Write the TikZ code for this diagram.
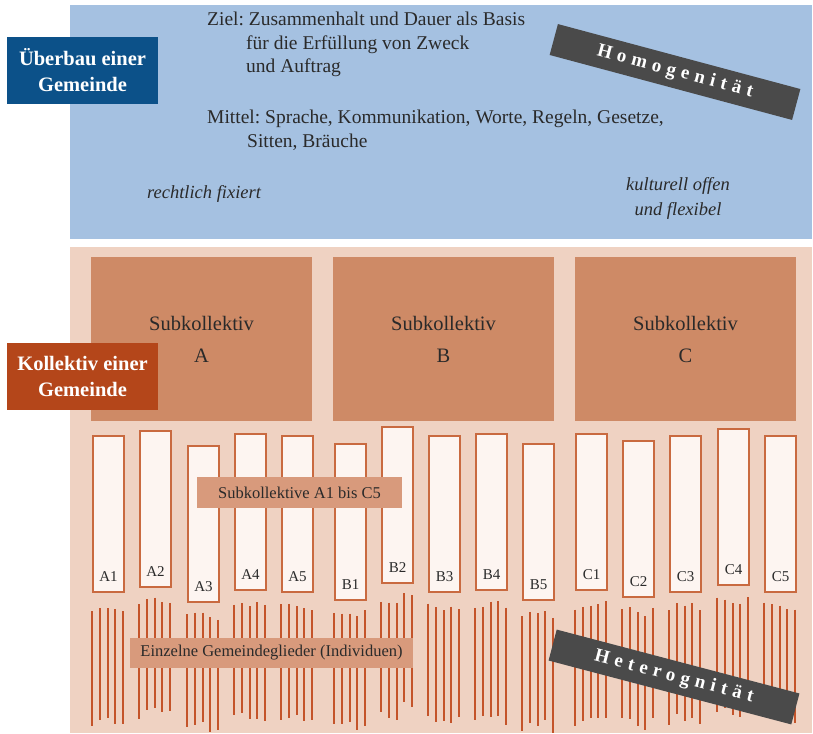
\documentclass[tikz,border=0pt]{standalone}
\usepackage{fontspec}
\setmainfont{Liberation Serif}
\newfontfamily\widefont[LetterSpace=29]{Liberation Serif}
\usetikzlibrary{calc}
\usetikzlibrary{positioning}
\frenchspacing
\definecolor{skyblue}{HTML}{A5C1E1}
\definecolor{dblue}{HTML}{0C5189}
\definecolor{salmon}{HTML}{EFD2C2}
\definecolor{clay}{HTML}{CE8A66}
\definecolor{rust}{HTML}{B4461A}
\definecolor{barfill}{HTML}{FDF5F1}
\definecolor{barline}{HTML}{C96A40}
\definecolor{member}{HTML}{C4542A}
\definecolor{notefill}{HTML}{D89A7C}
\definecolor{slate}{HTML}{4A4A4A}
\definecolor{ink}{HTML}{2A2A2A}
\tikzstyle{tag}=[inner sep=0pt,align=center,text=white,minimum width=151,minimum height=67,font=\fontsize{20.5}{26}\selectfont\bfseries]
\tikzstyle{sub}=[fill=clay,inner sep=0pt,align=center,text=ink,minimum width=221,minimum height=164,font=\fontsize{20.5}{32}\selectfont]
\tikzstyle{bar}=[draw=barline,fill=barfill,line width=2pt,anchor=north west,inner sep=0pt,minimum width=31,minimum height=156]
\tikzstyle{note}=[fill=notefill,inner sep=0pt,text=ink,font=\fontsize{16.5}{18}\selectfont]
\tikzstyle{stamp}=[fill=slate,inner sep=0pt,text=white,minimum width=251,minimum height=32,font=\fontsize{19}{22}\selectfont\widefont\bfseries]
\tikzstyle{body}=[inner sep=0pt,text=ink,align=left,anchor=base west,font=\fontsize{19.5}{23.5}\selectfont]
\tikzstyle{remark}=[inner sep=0pt,text=ink,align=center,anchor=base,font=\fontsize{18.5}{25}\selectfont\itshape]

\begin{document}
\begin{tikzpicture}[x=1pt,y=-1pt]
  \useasboundingbox (0,0) rectangle (813,733);
  % upper panel
  \fill[skyblue] (70,5) rectangle (812,239);
  \node[body] (ziel) at (207,73) {Ziel: Zusammenhalt und Dauer als Basis\\
    \hspace*{39pt}für die Erfüllung von Zweck\\
    \hspace*{39pt}und Auftrag};
  \node[body] (mittel) at (207,147) {Mittel: Sprache, Kommunikation, Worte, Regeln, Gesetze,\\
    \hspace*{40pt}Sitten, Bräuche};
  \node[remark] (fix) at (204,198) {rechtlich fixiert};
  \node[remark] (open) at (678,215) {kulturell offen\\und flexibel};
  \node[stamp,rotate=-15] (homo) at (675,72) {Homogenität};
  \node[tag,fill=dblue] (ueber) at (82.5,70.5) {Überbau einer\\Gemeinde};
  % lower panel
  \fill[salmon] (70,247) rectangle (812,733);
  \node[sub] (SA) at (201.5,339) {Subkollektiv\\A};
  \node[sub] (SB) at (443.5,339) {Subkollektiv\\B};
  \node[sub] (SC) at (685.5,339) {Subkollektiv\\C};
  \node[tag,fill=rust] (koll) at (82.5,376.5) {Kollektiv einer\\Gemeinde};
  \pgfmathsetseed{11}
  \foreach \n/\x/\t in {A1/92/435,A2/139/430,A3/187/445,A4/234/433,A5/281/435,
      B1/334/443,B2/381/426,B3/428/435,B4/475/433,B5/522/443,
      C1/575/433,C2/622/440,C3/669/435,C4/717/428,C5/764/435}{
    \node[bar] (\n) at (\x,\t) {};
    \node[text=ink,font=\fontsize{15}{18}\selectfont] at ($(\n.south)+(0,-16)$) {\n};
    \foreach \k in {0,...,4}
      \draw[member,line width=2pt] ($(\n.south west)+(\k*7.75,9+rnd*10)$) -- ++(0,108+rnd*10);
  }
  \node[note,minimum width=205,minimum height=31] (subs) at (299.5,492.5) {Subkollektive A1 bis C5};
  \node[note,minimum width=283,minimum height=30] (einz) at (271.5,653) {Einzelne Gemeindeglieder (Individuen)};
  \node[stamp,rotate=-14.75] (hetero) at (674,677) {Heterognität};
\end{tikzpicture}
\end{document}
